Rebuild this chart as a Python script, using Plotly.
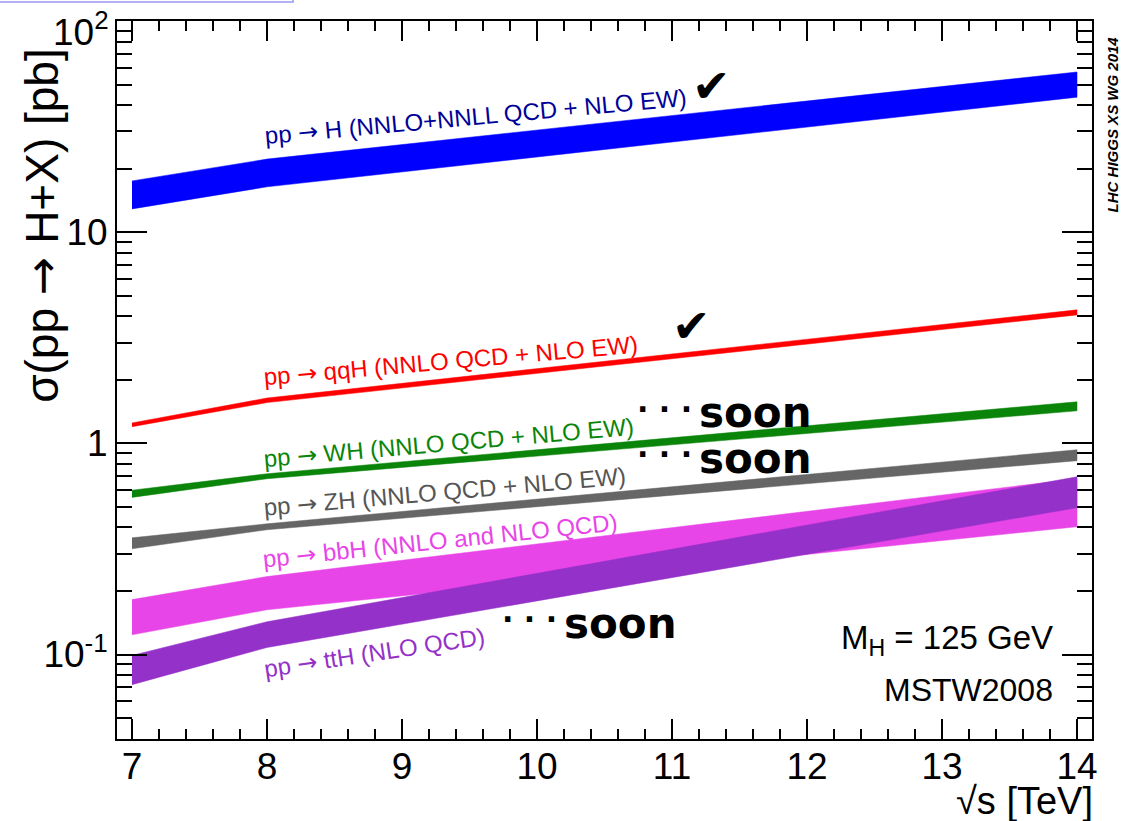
import plotly.graph_objects as go

# ---------------- data ----------------
sqrt_s = [7, 8, 14]

ggH_hi = [17.5, 22.2, 57.4]
ggH_lo = [12.9, 16.4, 43.6]

vbf_hi = [1.25, 1.64, 4.29]
vbf_lo = [1.20, 1.56, 4.06]

wh_hi = [0.600, 0.718, 1.574]
wh_lo = [0.555, 0.680, 1.426]

zh_hi = [0.357, 0.416, 0.933]
zh_lo = [0.317, 0.390, 0.828]

bbh_hi = [0.182, 0.234, 0.680]
bbh_lo = [0.124, 0.163, 0.403]

tth_hi = [0.099, 0.143, 0.695]
tth_lo = [0.072, 0.108, 0.496]

x_ticks = [7, 8, 9, 10, 11, 12, 13, 14]
y_ticks = [0.1, 1, 10, 100]
y_ticktext = ["10<sup>-1</sup>", "1", "10", ""]   # top label drawn separately below
y_top_label = "10<sup>2</sup>"

FONT = "Liberation Sans, Arial, Helvetica, sans-serif"
ARROW = '<span style="font-family:DejaVu Sans">→</span>'

bands = [
    ("ggH", ggH_hi, ggH_lo, "#0000ff"),
    ("VBF", vbf_hi, vbf_lo, "#ff0000"),
    ("WH", wh_hi, wh_lo, "#0a850a"),
    ("ZH", zh_hi, zh_lo, "#666666"),
    ("bbH", bbh_hi, bbh_lo, "#e845e8"),
    ("ttH", tth_hi, tth_lo, "#9431c8"),
]

fig = go.Figure()
for name, hi, lo, col in bands:
    fig.add_trace(go.Scatter(
        x=sqrt_s + sqrt_s[::-1],
        y=hi + lo[::-1],
        fill="toself", fillcolor=col,
        mode="lines", line=dict(color=col, width=0.5),
        name=name, showlegend=False, hoverinfo="skip",
    ))

labels = [
    (f"pp {ARROW} H (NNLO+NNLL QCD + NLO EW)", 9.541, 1.5457, "#000099", -5.2),
    (f"pp {ARROW} qqH (NNLO QCD + NLO EW)", 9.363, 0.3909, "#ff0000", -5.0),
    (f"pp {ARROW} WH (NNLO QCD + NLO EW)", 9.348, 0.0028, "#0a850a", -5.0),
    (f"pp {ARROW} ZH (NNLO QCD + NLO EW)", 9.319, -0.229, "#555555", -5.0),
    (f"pp {ARROW} bbH (NNLO and NLO QCD)", 9.281, -0.461, "#e845e8", -6.0),
    (f"pp {ARROW} ttH (NLO QCD)", 8.80, -0.991, "#9431c8", -8.5),
]
ann = []
for txt, x, y, col, ang in labels:
    ann.append(dict(text=txt, x=x, y=y, xref="x", yref="y", showarrow=False,
                    textangle=ang, font=dict(family=FONT, size=24, color=col),
                    xanchor="center", yanchor="middle"))

# check marks
for x, y in [(11.289, 1.6924), (11.141, 0.5566)]:
    ann.append(dict(text="✔", x=x, y=y, xref="x", yref="y", showarrow=False,
                    font=dict(family="DejaVu Sans", size=46, color="black"),
                    xanchor="center", yanchor="middle"))

# "... soon"
for xs, ys, xd, yd in [(11.622, 0.1448, 10.948, 0.159),
                       (11.622, -0.0729, 10.948, -0.054),
                       (10.622, -0.854, 9.948, -0.835)]:
    ann.append(dict(text="<b>soon</b>", x=xs, y=ys, xref="x", yref="y", showarrow=False,
                    font=dict(family="DejaVu Sans", size=42, color="black"),
                    xanchor="center", yanchor="middle"))
    ann.append(dict(text="<b>· · ·</b>", x=xd, y=yd, xref="x", yref="y", showarrow=False,
                    font=dict(family="DejaVu Sans", size=30, color="black"),
                    xanchor="center", yanchor="middle"))

ann.append(dict(text="M<sub>H</sub> = 125 GeV", x=13.837, y=-0.929, xref="x", yref="y",
                showarrow=False, xanchor="right", yanchor="middle",
                font=dict(family=FONT, size=33, color="black")))
ann.append(dict(text="MSTW2008", x=13.837, y=-1.166, xref="x", yref="y",
                showarrow=False, xanchor="right", yanchor="middle",
                font=dict(family=FONT, size=32, color="black")))

# top y tick label (ROOT places it slightly below the frame corner)
ann.append(dict(text=y_top_label, x=-0.006, y=0.988, xref="paper", yref="paper",
                showarrow=False, xanchor="right", yanchor="middle",
                font=dict(family=FONT, size=37, color="black")))

# axis titles (ROOT style, right aligned)
ann.append(dict(text=f"σ(pp {ARROW} H+X) [pb]", x=-0.077, y=0.716, xref="paper", yref="paper",
                showarrow=False, textangle=-90, xanchor="center", yanchor="middle",
                font=dict(family=FONT, size=46, color="black")))
ann.append(dict(text="√s [TeV]", x=0.931, y=-0.086, xref="paper", yref="paper",
                showarrow=False, xanchor="center", yanchor="middle",
                font=dict(family=FONT, size=38, color="black")))
ann.append(dict(text="<b><i>LHC HIGGS XS WG 2014</i></b>", x=1.0205, y=0.856,
                xref="paper", yref="paper", showarrow=False, textangle=-90,
                xanchor="center", yanchor="middle",
                font=dict(family=FONT, size=15, color="black")))

minor_y = [v * 10 ** e for e in (-2, -1, 0, 1) for v in range(2, 10)]

fig.update_layout(
    width=1126, height=821,
    margin=dict(l=117, r=34, t=21, b=82, autoexpand=False),
    paper_bgcolor="white", plot_bgcolor="white",
    annotations=ann,
    showlegend=False,
    xaxis=dict(
        range=[6.889, 14.111], tickvals=x_ticks, ticks="inside", ticklen=20,
        tickwidth=2, tickcolor="black", showline=True, linecolor="black", linewidth=2,
        mirror="allticks", showgrid=False, zeroline=False, automargin=False,
        ticklabelstandoff=-6,
        tickfont=dict(family=FONT, size=37, color="black"),
        minor=dict(tick0=7, dtick=0.2, ticks="inside", ticklen=10, tickwidth=2,
                   tickcolor="black", showgrid=False),
    ),
    yaxis=dict(
        type="log", range=[-1.40, 2.0004], tickvals=y_ticks, ticktext=y_ticktext,
        ticks="inside", ticklen=30, tickwidth=2, tickcolor="black",
        showline=True, linecolor="black", linewidth=2, mirror="allticks",
        showgrid=False, zeroline=False, ticklabeloverflow="allow", automargin=False,
        tickfont=dict(family=FONT, size=37, color="black"),
        minor=dict(tickvals=minor_y, ticks="inside", ticklen=15, tickwidth=2,
                   tickcolor="black", showgrid=False),
    ),
    shapes=[dict(type="rect", xref="paper", yref="paper", x0=-0.13, x1=0.1805,
                 y0=1.0265, y1=1.05, line=dict(color="#9999ee", width=1.5))],
)

fig.write_html("out.html")
